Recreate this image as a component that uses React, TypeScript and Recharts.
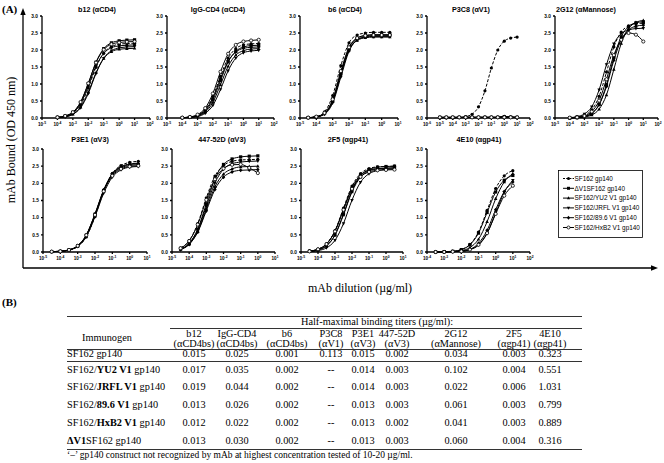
import React from 'react';
import { LineChart, Line, XAxis, YAxis } from 'recharts';

// ---------- DATA ----------
const seriesNames = [
  'SF162 gp140',
  'ΔV1SF162 gp140',
  'SF162/YU2 V1 gp140',
  'SF162/JRFL V1 gp140',
  'SF162/89.6 V1 gp140',
  'SF162/HxB2 V1 gp140',
];

// concentrations (µg/ml)
const concA = [1e-4, 3.16e-4, 1e-3, 3.16e-3, 0.01, 0.0316, 0.1, 0.316, 1, 3.16, 10];
const concB = [3.16e-5, 1e-4, 3.16e-4, 1e-3, 3.16e-3, 0.01, 0.0316, 0.1, 0.316, 1, 3.16];
const concP3C8 = [1e-5, 3.16e-5, 1e-4, 3.16e-4, 1e-3, 3.16e-3, 0.01, 0.0316, 0.1, 0.316, 1, 3.16, 10];
const conc447 = [3.16e-5, 1e-4, 3.16e-4, 1e-3, 3.16e-3, 0.01, 0.0316, 0.1, 0.316, 1];
const conc4E10 = [3.16e-4, 1e-3, 3.16e-3, 0.01, 0.0316, 0.1, 0.316, 1, 3.16, 10];

// OD450 values, series order = seriesNames
const b12Y = [
  [0.01, 0.05, 0.14, 0.38, 0.88, 1.49, 1.91, 2.10, 2.17, 2.19, 2.20],
  [0.02, 0.06, 0.17, 0.45, 1.01, 1.64, 2.04, 2.21, 2.27, 2.29, 2.30],
  [0.01, 0.04, 0.11, 0.32, 0.76, 1.33, 1.75, 1.95, 2.02, 2.04, 2.05],
  [0.01, 0.03, 0.11, 0.30, 0.72, 1.31, 1.76, 1.98, 2.06, 2.09, 2.10],
  [0.02, 0.05, 0.15, 0.42, 0.94, 1.53, 1.90, 2.07, 2.12, 2.14, 2.15],
  [0.02, 0.06, 0.17, 0.47, 1.02, 1.63, 2.01, 2.17, 2.22, 2.24, 2.25],
];
const iggY = [
  [0.01, 0.03, 0.08, 0.25, 0.63, 1.23, 1.76, 2.04, 2.15, 2.18, 2.19],
  [0.01, 0.02, 0.07, 0.20, 0.54, 1.10, 1.65, 1.96, 2.09, 2.13, 2.14],
  [0.01, 0.02, 0.06, 0.17, 0.46, 0.98, 1.52, 1.85, 1.98, 2.03, 2.04],
  [0.00, 0.01, 0.04, 0.14, 0.37, 0.84, 1.39, 1.76, 1.92, 1.97, 1.99],
  [0.01, 0.03, 0.08, 0.23, 0.59, 1.16, 1.67, 1.94, 2.05, 2.08, 2.09],
  [0.01, 0.03, 0.10, 0.29, 0.72, 1.36, 1.89, 2.15, 2.25, 2.28, 2.30],
];
const b6Y = [
  [0.01, 0.04, 0.18, 0.66, 1.54, 2.21, 2.44, 2.50, 2.52, 2.52, 2.52],
  [0.01, 0.03, 0.13, 0.50, 1.32, 2.05, 2.35, 2.43, 2.45, 2.45, 2.45],
  [0.01, 0.03, 0.13, 0.49, 1.28, 1.99, 2.28, 2.36, 2.38, 2.38, 2.38],
  [0.01, 0.03, 0.11, 0.44, 1.20, 1.96, 2.30, 2.39, 2.42, 2.42, 2.42],
  [0.01, 0.03, 0.13, 0.49, 1.29, 2.01, 2.30, 2.38, 2.40, 2.40, 2.40],
  [0.01, 0.04, 0.15, 0.55, 1.38, 2.08, 2.35, 2.42, 2.44, 2.44, 2.44],
];
const p3c8Y = [
  [0.00, 0.00, 0.00, 0.01, 0.04, 0.11, 0.33, 0.80, 1.47, 2.00, 2.26, 2.35, 2.38],
  [0.02, 0.02, 0.02, 0.02, 0.02, 0.02, 0.02, 0.02, 0.02, 0.02, 0.03, 0.02, 0.02],
  [0.01, 0.01, 0.01, 0.01, 0.01, 0.01, 0.01, 0.01, 0.01, 0.02, 0.05, 0.03, 0.02],
  [0.02, 0.02, 0.02, 0.02, 0.02, 0.02, 0.02, 0.02, 0.02, 0.02, 0.04, 0.03, 0.02],
  [0.01, 0.01, 0.01, 0.02, 0.02, 0.02, 0.02, 0.02, 0.02, 0.02, 0.03, 0.02, 0.01],
  [0.02, 0.02, 0.02, 0.02, 0.02, 0.02, 0.02, 0.02, 0.02, 0.02, 0.02, 0.02, 0.02],
];
const g12Y = [
  [0.01, 0.03, 0.08, 0.24, 0.64, 1.35, 2.09, 2.53, 2.71, 2.77, 2.79],
  [0.00, 0.01, 0.05, 0.14, 0.40, 0.98, 1.78, 2.39, 2.69, 2.80, 2.83],
  [0.00, 0.01, 0.03, 0.09, 0.26, 0.68, 1.43, 2.19, 2.63, 2.81, 2.87],
  [0.01, 0.04, 0.12, 0.33, 0.83, 1.57, 2.18, 2.48, 2.59, 2.63, 2.64],
  [0.00, 0.01, 0.04, 0.13, 0.39, 0.93, 1.70, 2.30, 2.59, 2.70, 2.73],
  [0.01, 0.02, 0.06, 0.19, 0.51, 1.14, 1.85, 2.30, 2.50, 2.45, 2.25],
];
const p3e1Y = [
  [0.01, 0.02, 0.05, 0.16, 0.44, 1.03, 1.77, 2.29, 2.52, 2.61, 2.64],
  [0.01, 0.02, 0.06, 0.18, 0.49, 1.10, 1.79, 2.25, 2.45, 2.52, 2.54],
  [0.01, 0.02, 0.06, 0.17, 0.47, 1.07, 1.78, 2.27, 2.49, 2.56, 2.59],
  [0.01, 0.02, 0.06, 0.16, 0.45, 1.03, 1.71, 2.18, 2.39, 2.47, 2.49],
  [0.01, 0.02, 0.06, 0.18, 0.50, 1.11, 1.81, 2.28, 2.47, 2.55, 2.57],
  [0.01, 0.02, 0.06, 0.18, 0.49, 1.08, 1.77, 2.22, 2.42, 2.49, 2.51],
];
const d447Y = [
  [0.12, 0.33, 0.83, 1.58, 2.21, 2.52, 2.64, 2.68, 2.69, 2.70],
  [0.09, 0.25, 0.67, 1.40, 2.13, 2.55, 2.71, 2.77, 2.79, 2.80],
  [0.08, 0.23, 0.60, 1.25, 1.90, 2.27, 2.42, 2.48, 2.49, 2.50],
  [0.08, 0.24, 0.64, 1.33, 2.01, 2.41, 2.57, 2.62, 2.64, 2.65],
  [0.07, 0.22, 0.58, 1.20, 1.82, 2.18, 2.33, 2.38, 2.39, 2.40],
  [0.11, 0.32, 0.80, 1.52, 2.12, 2.43, 2.54, 2.55, 2.45, 2.30],
];
const f2f5Y = [
  [0.03, 0.08, 0.24, 0.62, 1.28, 1.92, 2.28, 2.43, 2.48, 2.49, 2.50],
  [0.02, 0.06, 0.18, 0.50, 1.11, 1.79, 2.22, 2.40, 2.47, 2.49, 2.50],
  [0.02, 0.06, 0.18, 0.49, 1.08, 1.75, 2.18, 2.36, 2.42, 2.44, 2.45],
  [0.01, 0.04, 0.12, 0.34, 0.83, 1.51, 2.03, 2.28, 2.37, 2.41, 2.42],
  [0.03, 0.08, 0.23, 0.61, 1.25, 1.88, 2.24, 2.38, 2.43, 2.44, 2.45],
  [0.02, 0.08, 0.23, 0.60, 1.23, 1.84, 2.19, 2.33, 2.38, 2.39, 2.40],
];
const e10Y = [
  [0.00, 0.01, 0.02, 0.07, 0.22, 0.58, 1.21, 1.85, 2.22, 2.37],
  [0.00, 0.01, 0.02, 0.07, 0.21, 0.55, 1.15, 1.75, 2.09, 2.23],
  [0.00, 0.00, 0.01, 0.04, 0.13, 0.37, 0.88, 1.55, 2.04, 2.28],
  [0.00, 0.00, 0.01, 0.02, 0.07, 0.20, 0.54, 1.14, 1.74, 2.09],
  [0.00, 0.00, 0.01, 0.03, 0.08, 0.25, 0.63, 1.23, 1.76, 2.04],
  [0.00, 0.00, 0.01, 0.02, 0.07, 0.21, 0.55, 1.11, 1.64, 1.93],
];

const yTicks = [0, 0.5, 1.0, 1.5, 2.0, 2.5, 3.0];

// Table (B)
const mAbs = ['b12', 'IgG-CD4', 'b6', 'P3C8', 'P3E1', '447-52D', '2G12', '2F5', '4E10'];
const targets = ['(αCD4bs)', '(αCD4bs)', '(αCD4bs)', '(αV1)', '(αV3)', '(αV3)', '(αMannose)', '(αgp41)', '(αgp41)'];
const immunogens: [string, boolean][][] = [
  [['SF162 gp140', false]],
  [['SF162/', false], ['YU2 V1', true], [' gp140', false]],
  [['SF162/', false], ['JRFL V1', true], [' gp140', false]],
  [['SF162/', false], ['89.6 V1', true], [' gp140', false]],
  [['SF162/', false], ['HxB2 V1', true], [' gp140', false]],
  [['ΔV1', true], ['SF162 gp140', false]],
];
const titers = [
  ['0.015', '0.025', '0.001', '0.113', '0.015', '0.002', '0.034', '0.003', '0.323'],
  ['0.017', '0.035', '0.002', '--', '0.014', '0.003', '0.102', '0.004', '0.551'],
  ['0.019', '0.044', '0.002', '--', '0.014', '0.003', '0.022', '0.006', '1.031'],
  ['0.013', '0.026', '0.002', '--', '0.013', '0.003', '0.061', '0.003', '0.799'],
  ['0.012', '0.022', '0.002', '--', '0.013', '0.002', '0.041', '0.003', '0.889'],
  ['0.013', '0.030', '0.002', '--', '0.013', '0.003', '0.060', '0.004', '0.316'],
];

// ---------- LAYOUT ----------
const ROWS = [
  { top: 16, bottom: 118, titleY: 10 },
  { top: 149, bottom: 252, titleY: 140 },
];

const panels = [
  { title: 'b12 (αCD4)', conc: concA, ys: b12Y, lo: -5, hi: 2, left: 42, right: 150, row: 0, tx: 97 },
  { title: 'IgG-CD4 (αCD4)', conc: concA, ys: iggY, lo: -5, hi: 2, left: 167, right: 274, row: 0, tx: 218 },
  { title: 'b6 (αCD4)', conc: concB, ys: b6Y, lo: -5, hi: 1, left: 300, right: 398, row: 0, tx: 345 },
  { title: 'P3C8 (αV1)', conc: concP3C8, ys: p3c8Y, lo: -6, hi: 2, left: 427, right: 530, row: 0, tx: 471 },
  { title: '2G12 (αMannose)', conc: concA, ys: g12Y, lo: -5, hi: 2, left: 555, right: 658, row: 0, tx: 586 },
  { title: 'P3E1 (αV3)', conc: concB, ys: p3e1Y, lo: -5, hi: 1, left: 43, right: 147, row: 1, tx: 90 },
  { title: '447-52D (αV3)', conc: conc447, ys: d447Y, lo: -5, hi: 1, left: 172, right: 275, row: 1, tx: 222 },
  { title: '2F5 (αgp41)', conc: concB, ys: f2f5Y, lo: -5, hi: 1, left: 301, right: 403, row: 1, tx: 348 },
  { title: '4E10 (αgp41)', conc: conc4E10, ys: e10Y, lo: -4, hi: 2, left: 427, right: 530, row: 1, tx: 479 },
];

const SANS = '"Liberation Sans", Arial, Helvetica, sans-serif';
const SERIF = '"Liberation Serif", "Times New Roman", Times, serif';

function Marker({ shape, cx, cy, r = 1.6 }: { shape: number; cx: number; cy: number; r?: number }) {
  switch (shape) {
    case 0:
      return <circle cx={cx} cy={cy} r={r} fill="#000" />;
    case 1:
      return <rect x={cx - r} y={cy - r} width={2 * r} height={2 * r} fill="#000" />;
    case 2:
      return <path d={`M${cx},${cy - r * 1.2}L${cx + r * 1.1},${cy + r * 0.8}L${cx - r * 1.1},${cy + r * 0.8}Z`} fill="#000" />;
    case 3:
      return <path d={`M${cx},${cy + r * 1.2}L${cx + r * 1.1},${cy - r * 0.8}L${cx - r * 1.1},${cy - r * 0.8}Z`} fill="#000" />;
    case 4:
      return <path d={`M${cx},${cy - r * 1.3}L${cx + r * 1.1},${cy}L${cx},${cy + r * 1.3}L${cx - r * 1.1},${cy}Z`} fill="#000" />;
    default:
      return <circle cx={cx} cy={cy} r={r} fill="#fff" stroke="#000" strokeWidth={0.8} />;
  }
}

const makeDot = (shape: number) => (props: any) => {
  const { cx, cy, index } = props;
  if (cx == null || cy == null) return <g key={`d${shape}-${index}`} />;
  return (
    <g key={`d${shape}-${index}`}>
      <Marker shape={shape} cx={cx} cy={cy} />
    </g>
  );
};

const XTick = (props: any) => {
  const { x, y, payload } = props;
  const e = Math.round(Math.log10(payload.value));
  return (
    <text x={x} y={y + 4} textAnchor="middle" fontSize={4.6} fontFamily={SANS} fontWeight="bold" fill="#000">
      10
      <tspan dy={-1.8} fontSize={3.3}>{e}</tspan>
    </text>
  );
};

const YTick = (props: any) => {
  const { x, y, payload } = props;
  return (
    <text x={x} y={y + 1.7} textAnchor="end" fontSize={4.8} fontFamily={SANS} fontWeight="bold" fill="#000">
      {Number(payload.value).toFixed(1)}
    </text>
  );
};

const YW = 20;
const MT = 4;
const MR = 4;
const XH = 12;

function Panel({ p }: { p: (typeof panels)[number] }) {
  const row = ROWS[p.row];
  const data = p.conc.map((c, i) => {
    const d: any = { x: c };
    p.ys.forEach((arr, j) => {
      d['s' + j] = arr[i];
    });
    return d;
  });
  const ticks: number[] = [];
  for (let e = p.lo; e <= p.hi; e++) ticks.push(Math.pow(10, e));
  const W = YW + (p.right - p.left) + MR;
  const H = MT + (row.bottom - row.top) + XH;
  return (
    <>
      <div
        style={{
          position: 'absolute',
          left: p.tx,
          top: row.titleY,
          transform: 'translate(-50%, -50%)',
          fontFamily: SANS,
          fontWeight: 'bold',
          fontSize: 7.2,
          whiteSpace: 'nowrap',
          lineHeight: 1,
        }}
      >
        {p.title}
      </div>
      <div style={{ position: 'absolute', left: p.left - YW, top: row.top - MT }}>
        <LineChart width={W} height={H} data={data} margin={{ top: MT, right: MR, left: 0, bottom: 0 }}>
          <XAxis
            type="number"
            dataKey="x"
            scale="log"
            domain={[Math.pow(10, p.lo), Math.pow(10, p.hi)]}
            ticks={ticks}
            interval={0}
            allowDataOverflow
            height={XH}
            tickSize={2}
            tick={<XTick />}
            stroke="#000"
            strokeWidth={1.3}
          />
          <YAxis
            type="number"
            domain={[0, 3]}
            ticks={yTicks}
            interval={0}
            width={YW}
            tickSize={2}
            tick={<YTick />}
            stroke="#000"
            strokeWidth={1.3}
          />
          {p.ys.map((_, j) => (
            <Line
              key={'s' + j}
              dataKey={'s' + j}
              type="monotone"
              stroke="#000"
              strokeWidth={1}
              strokeDasharray={j === 0 ? '3 1.6' : undefined}
              dot={makeDot(j)}
              activeDot={false}
              isAnimationActive={false}
            />
          ))}
        </LineChart>
      </div>
    </>
  );
}

function LegendBox() {
  const left = 558;
  const top = 170;
  const w = 85;
  const h = 68;
  return (
    <svg style={{ position: 'absolute', left, top }} width={w} height={h}>
      <rect x={0.5} y={0.5} width={w - 1} height={h - 1} fill="#fff" stroke="#000" strokeWidth={0.8} />
      {seriesNames.map((name, j) => {
        const y = 8.5 + j * 9.8;
        return (
          <g key={name}>
            <line x1={5} x2={16} y1={y} y2={y} stroke="#000" strokeWidth={1} strokeDasharray={j === 0 ? '2 1.2' : undefined} />
            <Marker shape={j} cx={10.5} cy={y} r={1.5} />
            <text x={16.5} y={y + 2.2} fontSize={6.4} fontFamily={SANS} fill="#000">
              {name}
            </text>
          </g>
        );
      })}
    </svg>
  );
}

const colX = [194, 237, 287, 331, 363, 397, 456, 514, 550];
const rowY = [354, 370, 387, 405, 423, 441];
const TL = 67;
const TR = 582;

function Txt({ x, y, children, align = 'center', size = 10.3, bold = false }: any) {
  return (
    <div
      style={{
        position: 'absolute',
        left: x,
        top: y,
        transform: align === 'center' ? 'translate(-50%, -50%)' : 'translate(0, -50%)',
        fontFamily: SERIF,
        fontSize: size,
        fontWeight: bold ? 'bold' : 'normal',
        whiteSpace: 'nowrap',
        lineHeight: 1,
        color: '#000',
      }}
    >
      {children}
    </div>
  );
}

function Rule({ y, x1, x2 }: { y: number; x1: number; x2: number }) {
  return <div style={{ position: 'absolute', left: x1, top: y, width: x2 - x1, height: 1, background: '#333' }} />;
}

export default function App() {
  return (
    <div
      style={{
        position: 'absolute',
        left: 0,
        top: 0,
        width: 664,
        height: 463,
        background: '#fff',
        overflow: 'hidden',
      }}
    >
      {/* axes arrows and big labels */}
      <svg style={{ position: 'absolute', left: 0, top: 0 }} width={664} height={300}>
        <line x1={23} y1={268} x2={23} y2={14} stroke="#000" strokeWidth={1.3} />
        <path d="M23,8 L20.3,15 L25.7,15 Z" fill="#000" />
        <line x1={23} y1={268} x2={652} y2={268} stroke="#000" strokeWidth={1.3} />
        <path d="M658,268 L651,265.3 L651,270.7 Z" fill="#000" />
        <text
          x={12}
          y={140}
          transform="rotate(-90 12 140)"
          textAnchor="middle"
          dominantBaseline="middle"
          fontFamily={SERIF}
          fontSize={12}
          fill="#000"
        >
          mAb Bound (OD 450 nm)
        </text>
        <text x={360} y={292} textAnchor="middle" fontFamily={SERIF} fontSize={12} fill="#000">
          mAb dilution (µg/ml)
        </text>
        <text x={2} y={13} fontFamily={SERIF} fontSize={11} fontWeight="bold" fill="#000">
          (A)
        </text>
      </svg>

      {panels.map((p) => (
        <Panel key={p.title} p={p} />
      ))}

      <LegendBox />

      {/* Table B */}
      <Txt x={2} y={302} align="left" size={11} bold>
        (B)
      </Txt>
      <Rule y={316} x1={TL} x2={TR} />
      <Txt x={377} y={322}>Half-maximal binding titers (µg/ml):</Txt>
      <Rule y={328} x1={170} x2={TR} />
      <Txt x={107} y={338}>Immunogen</Txt>
      {mAbs.map((m, i) => (
        <Txt key={m} x={colX[i]} y={333.5}>
          {m}
        </Txt>
      ))}
      {targets.map((t, i) => (
        <Txt key={'t' + i} x={colX[i]} y={344}>
          {t}
        </Txt>
      ))}
      <Rule y={349} x1={TL} x2={TR} />
      {immunogens.map((segs, r) => (
        <React.Fragment key={'r' + r}>
          <Txt x={TL} y={rowY[r]} align="left">
            {segs.map(([s, b], k) => (
              <span key={k} style={{ fontWeight: b ? 'bold' : 'normal' }}>
                {s}
              </span>
            ))}
          </Txt>
          {titers[r].map((v, c) => (
            <Txt key={'v' + c} x={colX[c]} y={rowY[r]}>
              {v}
            </Txt>
          ))}
        </React.Fragment>
      ))}
      <Rule y={361} x1={TL} x2={TR} />
      <Rule y={449} x1={TL} x2={TR} />
      <Txt x={TL} y={456} align="left" size={9.5}>
        ‘–’ gp140 construct not recognized by mAb at highest concentration tested of 10-20 µg/ml.
      </Txt>
    </div>
  );
}
